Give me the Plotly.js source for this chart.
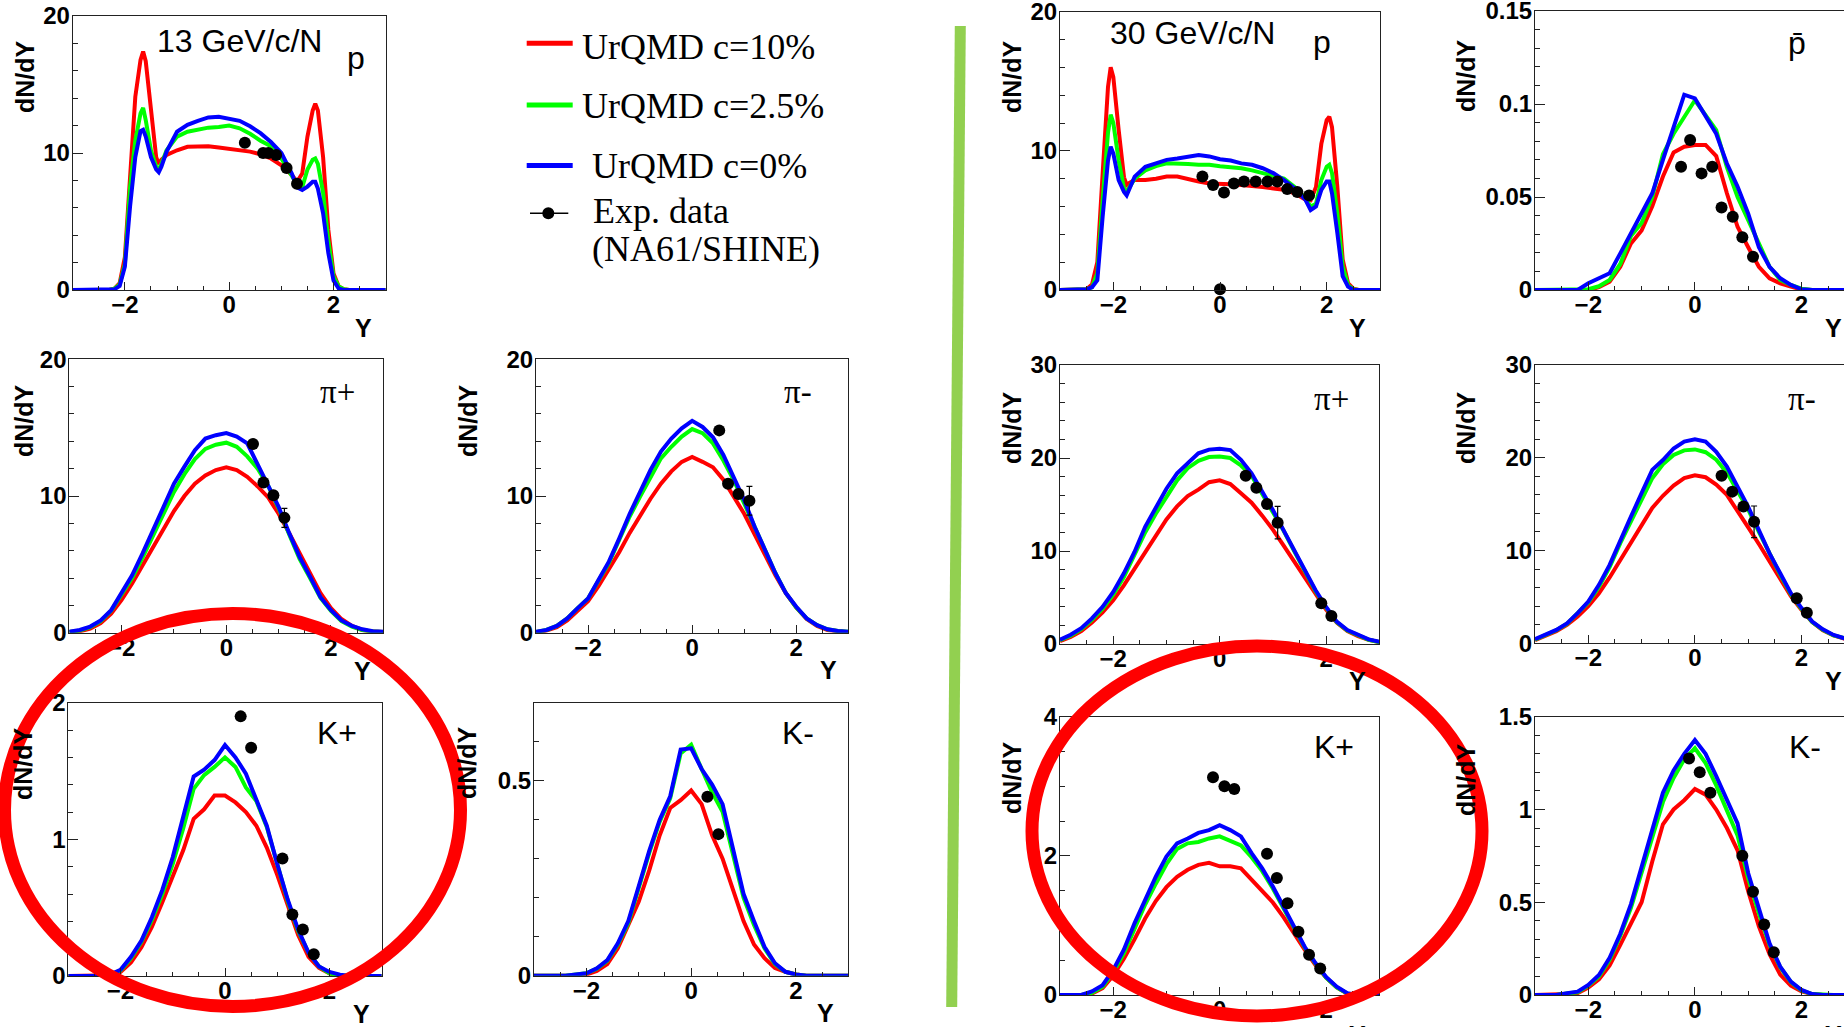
<!DOCTYPE html>
<html><head><meta charset="utf-8">
<script src="https://cdn.plot.ly/plotly-3.0.1.min.js"></script>
<style>html,body{margin:0;padding:0;background:#fff;overflow:hidden}</style>
</head><body><div id="chart" style="width:1844px;height:1027px"></div>
<script>
// ---------------- DATA ----------------
const rapidity = [-3,-2.8,-2.6,-2.4,-2.2,-2,-1.8,-1.6,-1.4,-1.2,-1,-0.8,-0.6,-0.4,-0.2,0,0.2,0.4,0.6,0.8,1,1.2,1.4,1.6,1.8,2,2.2,2.4,2.6,2.8,3];
const rapidityP13 = [-3,-2.3,-2.2,-2.1,-2.0,-1.9,-1.8,-1.7,-1.65,-1.6,-1.5,-1.4,-1.35,-1.3,-1.2,-1.0,-0.8,-0.6,-0.4,-0.2,0,0.2,0.4,0.6,0.8,1.0,1.2,1.3,1.4,1.5,1.6,1.65,1.7,1.8,1.9,2.0,2.1,2.2,2.3,3];
const rapidityP30 = [-3,-2.6,-2.5,-2.4,-2.3,-2.2,-2.1,-2.05,-2.0,-1.9,-1.8,-1.75,-1.7,-1.6,-1.4,-1.2,-1.0,-0.8,-0.6,-0.4,-0.2,0,0.2,0.4,0.6,0.8,1.0,1.2,1.4,1.6,1.7,1.8,1.9,2.0,2.05,2.1,2.2,2.3,2.4,2.5,2.6,3];

// 13 GeV/c/N protons
const p13Red   = [0,0,0.1,0.5,2.4,8.5,14.1,16.8,17.4,16.7,13.1,9.7,9.2,9.5,9.85,10.2,10.45,10.5,10.5,10.4,10.3,10.2,10.1,9.9,9.6,9.1,8.4,7.9,8.5,11.2,13.1,13.6,13.1,9.7,4.4,1.2,0.25,0.05,0,0];
const p13Green = [0,0,0.1,0.4,1.9,7.5,10.9,12.9,13.3,12.4,10.2,9.0,8.8,9.2,10.2,11.2,11.55,11.7,11.85,11.9,12.0,11.8,11.4,10.9,10.5,9.6,8.4,7.7,7.5,8.8,9.5,9.6,9.2,7.1,3.6,1.0,0.25,0.05,0,0];
const p13Blue  = [0,0,0.05,0.3,1.7,6.1,9.7,11.6,11.7,11.2,9.7,8.8,8.6,9.0,10.1,11.55,12.05,12.35,12.6,12.65,12.5,12.35,11.95,11.45,10.8,10.0,8.5,7.5,7.3,7.55,7.9,7.9,7.4,5.6,2.7,0.7,0.1,0,0,0];
const p13ExpY  = [0.3,0.65,0.75,0.9,1.1,1.3];
const p13ExpN  = [10.75,10.0,10.0,9.85,8.9,7.75];

// 30 GeV/c/N protons
const p30Red   = [0,0,0.05,0.4,2.0,8.4,14.6,16.0,15.3,11.5,8.1,7.55,7.7,7.9,7.9,8.0,8.15,8.15,7.95,7.8,7.65,7.65,7.6,7.55,7.5,7.4,7.3,7.2,6.95,6.5,6.45,7.4,10.5,12.2,12.45,11.7,7.4,2.2,0.5,0.1,0,0];
const p30Green = [0,0,0.05,0.2,1.2,6.5,11.3,12.6,12.0,9.3,7.3,7.05,7.4,8.0,8.6,8.9,9.1,9.1,9.05,9.0,9.0,8.9,8.85,8.75,8.6,8.4,8.25,8.0,7.4,6.6,6.0,6.2,7.9,8.85,9.0,8.4,5.5,1.7,0.35,0.05,0,0];
const p30Blue  = [0,0,0.05,0.2,0.7,5.3,9.3,10.3,9.8,7.9,7.05,6.8,7.2,8.15,8.85,9.1,9.35,9.45,9.6,9.7,9.6,9.4,9.3,9.1,9.0,8.75,8.4,7.9,7.3,6.5,5.75,6.0,7.2,7.8,7.8,6.95,4.1,1.0,0.25,0,0,0];
const p30ExpY  = [-0.33,-0.13,0.075,0.26,0.45,0.67,0.89,1.075,1.26,1.45,1.67,0.0];
const p30ExpN  = [8.15,7.55,7.0,7.65,7.8,7.8,7.8,7.8,7.25,7.05,6.8,0.05];

// 30 GeV/c/N antiprotons
const pbar30Red   = [0,0,0,0,0,0,0.0015,0.0045,0.0125,0.025,0.032,0.045,0.061,0.074,0.077,0.078,0.078,0.072,0.052,0.034,0.023,0.0125,0.0063,0.0036,0.0018,0.0003,0,0,0,0,0];
const pbar30Green = [0,0,0,0,0,0.0004,0.002,0.0054,0.014,0.029,0.036,0.05,0.073,0.084,0.093,0.102,0.094,0.086,0.066,0.05,0.0376,0.025,0.0125,0.0054,0.0027,0.0007,0,0,0,0,0];
const pbar30Blue  = [0,0,0,0,0,0.0036,0.0063,0.009,0.0197,0.0305,0.041,0.052,0.07,0.088,0.105,0.103,0.093,0.084,0.068,0.0556,0.041,0.023,0.0125,0.0063,0.0027,0.0004,0,0,0,0,0];
const pbar30ExpY  = [-0.26,-0.09,0.125,0.325,0.5,0.71,0.89,1.09];
const pbar30ExpN  = [0.0663,0.0806,0.0627,0.0663,0.0444,0.0394,0.0283,0.0179];

// 13 GeV/c/N pi+
const pip13Red   = [0.05,0.1,0.3,0.7,1.4,2.4,3.6,4.9,6.3,7.6,8.9,10.0,10.9,11.5,11.9,12.1,11.9,11.4,10.7,9.9,8.7,7.3,5.8,4.3,2.9,1.8,1.0,0.5,0.2,0.08,0.05];
const pip13Green = [0.05,0.15,0.4,0.85,1.6,2.8,4.0,5.5,7.15,8.8,10.3,11.6,12.7,13.45,13.75,13.9,13.6,12.9,12.0,10.75,9.1,7.2,5.4,4.0,2.55,1.6,0.85,0.45,0.2,0.08,0.05];
const pip13Blue  = [0.07,0.2,0.45,0.9,1.65,2.9,4.2,5.8,7.5,9.2,10.9,12.15,13.35,14.2,14.45,14.6,14.35,13.85,12.3,10.9,9.2,7.3,5.55,4.1,2.6,1.65,0.9,0.5,0.25,0.1,0.07];
const pip13ExpY  = [0.51,0.71,0.9,1.11];
const pip13ExpN  = [13.8,10.98,10.05,8.4];
const pip13ExpErr = [0,0,0,0.7];

// 13 GeV/c/N pi-
const pim13Red   = [0.03,0.15,0.4,0.9,1.6,2.3,3.4,4.6,5.9,7.3,8.6,9.8,10.9,11.8,12.5,12.85,12.5,12.1,11.2,10.0,8.7,7.2,5.7,4.2,2.9,1.85,1.0,0.5,0.2,0.08,0.03];
const pim13Green = [0.05,0.2,0.5,1.05,1.8,2.5,3.8,5.1,6.8,8.5,9.95,11.4,12.75,13.6,14.35,14.9,14.6,13.85,12.6,11.15,9.45,7.6,5.9,4.35,2.9,1.85,1.05,0.55,0.25,0.12,0.07];
const pim13Blue  = [0.07,0.2,0.5,1.05,1.8,2.5,3.85,5.2,6.9,8.7,10.3,11.9,13.25,14.2,14.95,15.5,15.05,14.3,13.0,11.4,9.7,7.75,6.05,4.35,2.9,1.9,1.05,0.55,0.25,0.12,0.07];
const pim13ExpY  = [0.52,0.69,0.89,1.1];
const pim13ExpN  = [14.8,10.9,10.15,9.65];
const pim13ExpErr = [0,0,0,1.05];

// 30 GeV/c/N pi+
const pip30Red   = [0.3,0.75,1.4,2.3,3.4,4.7,6.3,8.1,10.0,11.8,13.4,14.8,15.9,16.6,17.4,17.6,17.2,16.2,15.2,13.8,12.3,10.6,8.9,7.2,5.4,3.7,2.3,1.4,0.85,0.45,0.2];
const pip30Green = [0.4,0.9,1.6,2.6,3.8,5.3,7.2,9.5,12.0,14.0,15.9,17.6,18.9,19.7,20.1,20.15,20.0,19.2,18.1,16.2,14.3,12.2,10.0,7.9,5.7,3.9,2.35,1.45,0.9,0.45,0.2];
const pip30Blue  = [0.45,1.0,1.7,2.75,4.0,5.6,7.6,9.9,12.6,14.6,16.7,18.35,19.4,20.5,20.9,21.0,20.85,19.8,18.35,16.4,14.4,12.25,10.1,7.95,5.8,4.0,2.4,1.5,0.97,0.5,0.25];
const pip30ExpY  = [0.49,0.69,0.89,1.09,1.91,2.1];
const pip30ExpN  = [18.1,16.8,15.05,13.05,4.37,3.0];
const pip30ExpErr = [0,0,0,1.75,0,0];

// 30 GeV/c/N pi-
const pim30Red   = [0.35,0.8,1.3,2.0,2.9,4.0,5.4,7.1,9.0,10.9,12.9,14.6,15.9,17.0,17.8,18.1,17.9,17.1,16.0,14.3,12.5,10.7,8.8,6.9,5.1,3.6,2.3,1.4,0.85,0.5,0.25];
const pim30Green = [0.4,0.85,1.4,2.1,3.2,4.4,6.1,8.2,10.8,13.2,15.6,17.8,19.3,20.3,20.8,20.9,20.6,19.8,18.4,16.5,14.4,12.0,9.6,7.4,5.3,3.7,2.3,1.45,0.85,0.5,0.28];
const pim30Blue  = [0.45,0.9,1.45,2.15,3.25,4.5,6.3,8.45,11.15,13.65,16.2,18.7,19.75,21.0,21.75,22.0,21.75,20.65,19.05,16.9,14.7,12.2,9.7,7.55,5.4,3.8,2.35,1.5,0.9,0.55,0.3];
const pim30ExpY  = [0.5,0.7,0.91,1.11,1.91,2.1];
const pim30ExpN  = [18.05,16.35,14.75,13.1,4.85,3.3];
const pim30ExpErr = [0,0,0,1.7,0,0];

// 13 GeV/c/N K+
const kp13Red   = [0,0,0,0,0.005,0.03,0.1,0.21,0.36,0.54,0.74,0.92,1.15,1.22,1.32,1.32,1.27,1.2,1.1,0.94,0.74,0.52,0.3,0.14,0.06,0.02,0,0,0,0,0];
const kp13Green = [0,0,0,0,0.01,0.04,0.13,0.25,0.41,0.6,0.82,1.08,1.37,1.47,1.53,1.6,1.53,1.38,1.28,1.09,0.82,0.55,0.33,0.17,0.07,0.02,0.005,0,0,0,0];
const kp13Blue  = [0,0,0,0,0.01,0.045,0.14,0.26,0.43,0.63,0.87,1.17,1.46,1.51,1.58,1.69,1.6,1.48,1.29,1.1,0.82,0.56,0.34,0.17,0.07,0.03,0.01,0,0,0,0];
const kp13ExpY  = [0.3,0.5,1.1,1.29,1.49,1.7];
const kp13ExpN  = [1.9,1.67,0.86,0.45,0.34,0.16];

// 13 GeV/c/N K-
const km13Red   = [0,0,0,0,0,0.003,0.012,0.03,0.07,0.13,0.19,0.27,0.36,0.43,0.45,0.475,0.44,0.36,0.3,0.22,0.14,0.08,0.045,0.02,0.01,0.003,0,0,0,0,0];
const km13Green = [0,0,0,0,0.003,0.006,0.018,0.038,0.08,0.135,0.225,0.315,0.395,0.455,0.57,0.592,0.53,0.47,0.42,0.31,0.2,0.13,0.07,0.03,0.01,0.003,0,0,0,0,0];
const km13Blue  = [0,0,0,0,0.003,0.006,0.019,0.04,0.083,0.14,0.23,0.32,0.4,0.46,0.58,0.583,0.53,0.49,0.44,0.32,0.21,0.14,0.074,0.032,0.01,0.003,0,0,0,0,0];
const km13ExpY  = [0.31,0.52];
const km13ExpN  = [0.459,0.363];

// 30 GeV/c/N K+
const kp30Red   = [0,0,0,0.02,0.1,0.28,0.52,0.8,1.1,1.35,1.55,1.7,1.8,1.87,1.9,1.85,1.85,1.82,1.65,1.5,1.33,1.12,0.88,0.65,0.43,0.25,0.11,0.02,0,0,0];
const kp30Green = [0,0,0,0.03,0.12,0.33,0.6,0.95,1.3,1.6,1.88,2.1,2.18,2.2,2.25,2.28,2.22,2.15,1.98,1.78,1.53,1.25,0.96,0.68,0.45,0.25,0.11,0.02,0,0,0];
const kp30Blue  = [0,0,0,0.05,0.14,0.36,0.65,1.03,1.37,1.7,1.99,2.18,2.25,2.33,2.37,2.44,2.37,2.28,2.04,1.82,1.56,1.27,0.98,0.69,0.46,0.26,0.12,0.025,0,0,0];
const kp30ExpY  = [-0.125,0.09,0.275,0.89,1.075,1.275,1.48,1.68,1.89];
const kp30ExpN  = [3.13,3.0,2.96,2.03,1.68,1.32,0.91,0.58,0.38];

// 30 GeV/c/N K-
const km30Red   = [0,0,0,0.005,0.01,0.04,0.085,0.16,0.27,0.38,0.5,0.72,0.92,1.0,1.05,1.11,1.08,1.0,0.9,0.78,0.56,0.37,0.22,0.11,0.05,0.02,0.005,0,0,0,0];
const km30Green = [0,0,0,0.008,0.015,0.05,0.1,0.19,0.32,0.47,0.66,0.85,1.04,1.17,1.27,1.33,1.25,1.13,1.0,0.86,0.63,0.44,0.27,0.15,0.07,0.025,0.005,0,0,0,0];
const km30Blue  = [0,0,0,0.01,0.018,0.054,0.108,0.2,0.33,0.49,0.69,0.89,1.09,1.21,1.3,1.374,1.3,1.18,1.05,0.925,0.656,0.458,0.278,0.153,0.072,0.027,0.005,0,0,0,0];
const km30ExpY  = [-0.11,0.09,0.29,0.89,1.09,1.3,1.48];
const km30ExpN  = [1.275,1.2,1.09,0.75,0.557,0.38,0.23];

const seriesNames = ['UrQMD c=10%','UrQMD c=2.5%','UrQMD c=0%','Exp. data (NA61/SHINE)'];

// ---------------- LAYOUT HELPERS ----------------
const W = 1844, H = 1027;
const px = v => v / W;
const py = v => 1 - v / H;
const SANS = 'Liberation Sans, Arial, Helvetica, sans-serif';
const SERIF = 'Liberation Serif, Times New Roman, serif';
const COLORS = ['#ff0000', '#00ff00', '#0000ff'];

const panels = [
  {box:[72.7,385.7,16,290],   grid:rapidityP13, c:[p13Red,p13Green,p13Blue], ex:p13ExpY, ey:p13ExpN, xEnd:3, yMax:20, dt:10, mn:2, full:true},
  {box:[1060,1380,11.7,290],  grid:rapidityP30, c:[p30Red,p30Green,p30Blue], ex:p30ExpY, ey:p30ExpN, xEnd:3, yMax:20, dt:10, mn:2, full:true},
  {box:[1535,1844,11,290],    grid:rapidity, c:[pbar30Red,pbar30Green,pbar30Blue], ex:pbar30ExpY, ey:pbar30ExpN, xEnd:2.797, yMax:0.15, dt:0.05, mn:0.01, full:false},
  {box:[69.3,383.3,359.3,632.7], grid:rapidity, c:[pip13Red,pip13Green,pip13Blue], ex:pip13ExpY, ey:pip13ExpN, err:pip13ExpErr, xEnd:3, yMax:20, dt:10, mn:2, full:true},
  {box:[536,848.3,359.3,632.7],  grid:rapidity, c:[pim13Red,pim13Green,pim13Blue], ex:pim13ExpY, ey:pim13ExpN, err:pim13ExpErr, xEnd:3, yMax:20, dt:10, mn:2, full:true},
  {box:[1060,1379.3,365,644],    grid:rapidity, c:[pip30Red,pip30Green,pip30Blue], ex:pip30ExpY, ey:pip30ExpN, err:pip30ExpErr, xEnd:3, yMax:30, dt:10, mn:2, full:true},
  {box:[1535,1844,365,643.3],    grid:rapidity, c:[pim30Red,pim30Green,pim30Blue], ex:pim30ExpY, ey:pim30ExpN, err:pim30ExpErr, xEnd:2.797, yMax:30, dt:10, mn:2, full:false},
  {box:[68.3,381.7,702.7,976],   grid:rapidity, c:[kp13Red,kp13Green,kp13Blue], ex:kp13ExpY, ey:kp13ExpN, xEnd:3, yMax:2, dt:1, mn:0.2, full:true},
  {box:[534,848.3,702.7,975.7],  grid:rapidity, c:[km13Red,km13Green,km13Blue], ex:km13ExpY, ey:km13ExpN, xEnd:3, yMax:0.7, dt:0.5, mn:0.1, full:true},
  {box:[1060,1379.3,716.7,995],  grid:rapidity, c:[kp30Red,kp30Green,kp30Blue], ex:kp30ExpY, ey:kp30ExpN, xEnd:3, yMax:4, dt:2, mn:0.5, full:true},
  {box:[1535,1844,716.7,995],    grid:rapidity, c:[km30Red,km30Green,km30Blue], ex:km30ExpY, ey:km30ExpN, xEnd:2.797, yMax:1.5, dt:0.5, mn:0.1, full:false}
];

const traces = [];
const layout = {
  width: W, height: H,
  margin: {l:0, r:0, t:0, b:0, pad:0},
  paper_bgcolor: '#ffffff', plot_bgcolor: '#ffffff',
  showlegend: false,
  annotations: [], shapes: []
};
const tickFont = {family: SANS, size: 24, weight: 'bold', color: '#000'};

panels.forEach((p, i) => {
  const n = i + 1;
  const xk = n === 1 ? 'x' : 'x' + n;
  const yk = n === 1 ? 'y' : 'y' + n;
  const [l, r, t, b] = p.box;
  layout[n === 1 ? 'xaxis' : 'xaxis' + n] = {
    domain: [px(l), Math.min(1, px(r))], range: [-3, p.xEnd], anchor: yk,
    showline: true, linecolor: '#222', linewidth: 1, mirror: true,
    ticks: 'inside', ticklen: 8, tickwidth: 1, tickcolor: '#222',
    tick0: 0, dtick: 2, tickfont: tickFont, ticklabelstandoff: -7, ticklabeloverflow: 'allow',
    minor: {dtick: 0.5, tick0: 0, ticks: 'inside', ticklen: 4, tickwidth: 1, tickcolor: '#222', showgrid: false},
    showgrid: false, zeroline: false, fixedrange: true
  };
  layout[n === 1 ? 'yaxis' : 'yaxis' + n] = {
    domain: [py(b), py(t)], range: [0, p.yMax], anchor: xk,
    showline: true, linecolor: '#222', linewidth: 1, mirror: p.full,
    ticks: 'inside', ticklen: 10, tickwidth: 1, tickcolor: '#222',
    tick0: 0, dtick: p.dt, tickfont: tickFont, ticklabelstandoff: -3, ticklabeloverflow: 'allow',
    minor: {dtick: p.mn, tick0: 0, ticks: 'inside', ticklen: 5, tickwidth: 1, tickcolor: '#222', showgrid: false},
    showgrid: false, zeroline: false, fixedrange: true
  };
  p.c.forEach((vals, k) => {
    traces.push({
      type: 'scatter', mode: 'lines', x: p.grid, y: vals, xaxis: xk, yaxis: yk,
      name: seriesNames[k], line: {color: COLORS[k], width: 4}, hoverinfo: 'skip'
    });
  });
  const exp = {
    type: 'scatter', mode: 'markers', x: p.ex, y: p.ey, xaxis: xk, yaxis: yk,
    name: seriesNames[3], marker: {color: '#000', size: 12}, cliponaxis: false, hoverinfo: 'skip'
  };
  if (p.err) exp.error_y = {type: 'data', array: p.err, visible: true, color: '#000', thickness: 1.2, width: 3};
  traces.push(exp);
});

// ---------------- TEXT ----------------
function ann(text, x, y, font, opts) {
  layout.annotations.push(Object.assign({
    text: text, xref: 'paper', yref: 'paper', x: px(x), y: py(y),
    xanchor: 'center', yanchor: 'middle', showarrow: false, font: font
  }, opts || {}));
}
const titleFont = {family: SANS, size: 25, weight: 'bold', color: '#000'};
// y-axis titles
[[25,77],[24,421],[468,421],[23,764],[467,763],[1012,77],[1466,76],[1012,428],[1466,428],[1012,778],[1466,780]]
  .forEach(([x, y]) => ann('dN/dY', x, y, titleFont, {textangle: -90}));
// x-axis titles
[[363,328],[362,671],[828,670],[361,1014],[825,1013],[1357,328],[1833,328],[1357,681],[1833,681],[1357,1035],[1833,1035]]
  .forEach(([x, y]) => ann('Y', x, y, titleFont));

const labFont = {family: SANS, size: 32, color: '#000'};
const piFont = {family: SERIF, size: 33, color: '#000'};
ann('13 GeV/c/N', 239, 41, labFont);
ann('30 GeV/c/N', 1192, 33, labFont);
ann('p', 356, 58, labFont);
ann('p', 1322, 42, labFont);
ann('p\u0304', 1797, 43, labFont);
ann('\u03c0+', 337, 392, piFont);
ann('\u03c0-', 798, 392, piFont);
ann('\u03c0+', 1331, 399, piFont);
ann('\u03c0-', 1802, 399, piFont);
ann('K+', 337, 733, labFont);
ann('K-', 798, 733, labFont);
ann('K+', 1334, 747, labFont);
ann('K-', 1805, 747, labFont);

// ---------------- LEGEND ----------------
const legFont = {family: SERIF, size: 36, color: '#000'};
ann(seriesNames[0], 580, 47, legFont, {xanchor: 'left'});
ann(seriesNames[1], 580, 106, legFont, {xanchor: 'left'});
ann(seriesNames[2], 590, 166, legFont, {xanchor: 'left'});
ann('Exp. data', 591, 211, legFont, {xanchor: 'left'});
ann('(NA61/SHINE)', 590, 249, legFont, {xanchor: 'left'});

function seg(x0, y0, x1, y1, color, width) {
  layout.shapes.push({type: 'line', xref: 'paper', yref: 'paper', x0: px(x0), y0: py(y0), x1: px(x1), y1: py(y1),
    line: {color: color, width: width}, layer: 'above'});
}
seg(526.7, 43.3, 572.7, 43.3, COLORS[0], 5);
seg(526.7, 105, 572.7, 105, COLORS[1], 5);
seg(526.7, 165.5, 572.7, 165.5, COLORS[2], 5);
seg(530, 213.3, 568.3, 213.3, '#000', 1.5);
layout.shapes.push({type: 'circle', xref: 'paper', yref: 'paper', x0: px(542.3), x1: px(554.3), y0: py(219.3), y1: py(207.3),
  fillcolor: '#000', line: {color: '#000', width: 0}, layer: 'above'});

// green divider
seg(960.3, 26, 951.7, 1007, '#92d050', 11);

// red highlight ellipses
function ellipse(cx, cy, rx, ry) {
  layout.shapes.push({type: 'circle', xref: 'paper', yref: 'paper',
    x0: px(cx - rx), x1: px(cx + rx), y0: py(cy + ry), y1: py(cy - ry),
    line: {color: '#ff0000', width: 13}, fillcolor: 'rgba(0,0,0,0)', layer: 'above'});
}
ellipse(232.5, 810, 228, 196.5);
ellipse(1257, 831, 225, 185);

Plotly.newPlot('chart', traces, layout, {staticPlot: true, displayModeBar: false});
</script>
</body></html>
